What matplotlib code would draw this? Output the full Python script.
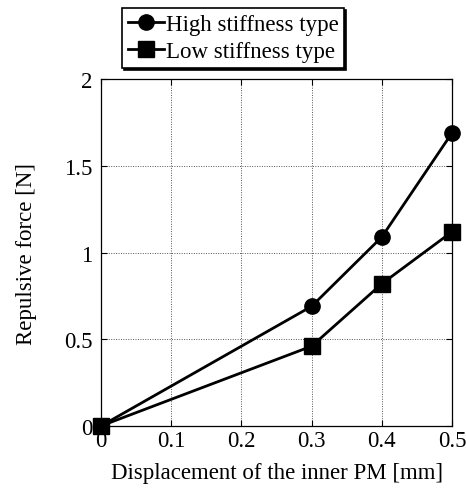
import matplotlib
matplotlib.use("Agg")
from matplotlib import pyplot

pyplot.rcParams['font.family'] = ['Liberation Serif', 'DejaVu Serif']

displacement = [0.0, 0.3, 0.4, 0.5]
high_force = [0.0, 0.69, 1.09, 1.69]
low_force = [0.0, 0.46, 0.82, 1.12]

fig = pyplot.figure(figsize=(4.66, 4.89), dpi=100)
ax = fig.add_axes([0.217, 0.127, 0.753, 0.709])

h1, = ax.plot(displacement, high_force, color='black', lw=2.0, marker='o',
              markersize=11, clip_on=False, zorder=3)
h2, = ax.plot(displacement, low_force, color='black', lw=2.0, marker='s',
              markersize=12, clip_on=False, zorder=3)

ax.set_xlim(0, 0.5)
ax.set_ylim(0, 2)
ax.set_xticks([0, 0.1, 0.2, 0.3, 0.4, 0.5])
ax.set_xticklabels(['0', '0.1', '0.2', '0.3', '0.4', '0.5'])
ax.set_yticks([0, 0.5, 1, 1.5, 2])
ax.set_yticklabels(['0', '0.5', '1', '1.5', '2'])
ax.tick_params(direction='in', top=True, right=True, labelsize=16.5,
               length=4, width=0.8)
ax.tick_params(axis='x', pad=3)
ax.tick_params(axis='y', pad=6)
ax.grid(True, color='#555555', linestyle=(0, (1, 1.5)), linewidth=0.7)
for s in ax.spines.values():
  s.set_linewidth(0.9)

ax.set_xlabel('Displacement of the inner PM [mm]', fontsize=16.5, labelpad=8)
ax.set_ylabel('Repulsive force [N]', fontsize=16.5, labelpad=20)

leg = fig.legend([h1, h2], ['High stiffness type', 'Low stiffness type'],
                 loc='upper left', bbox_to_anchor=(0.262, 0.982),
                 fontsize=16.5, handlelength=1.6, handletextpad=0.05,
                 borderpad=0.25, labelspacing=0.3, fancybox=False,
                 shadow={'color': 'black', 'alpha': 1.0, 'ox': 1.5, 'oy': -1.5},
                 framealpha=1.0, borderaxespad=0)
leg.get_frame().set_edgecolor('black')
leg.get_frame().set_linewidth(1.2)

fig.savefig('out.png', dpi=100)
